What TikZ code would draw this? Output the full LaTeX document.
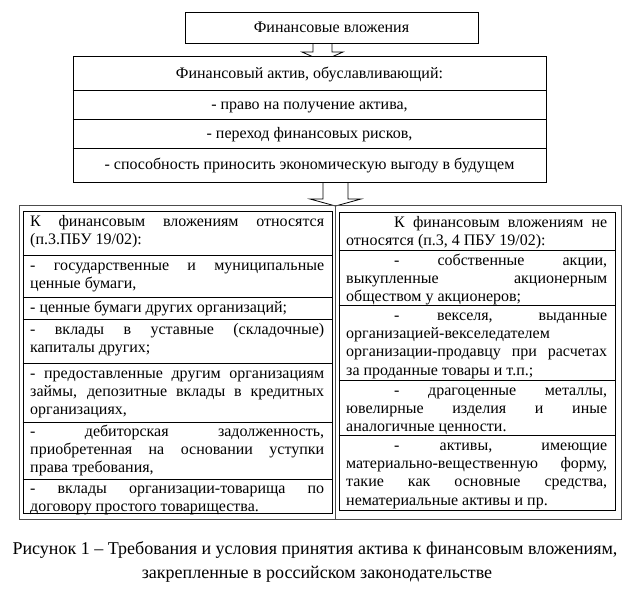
\documentclass[tikz,border=0pt]{standalone}
\usepackage{fontspec}
\setmainfont{Liberation Serif}
\usetikzlibrary{positioning,calc}
\hyphenpenalty=10000
\exhyphenpenalty=10000
\tolerance=10000
\hbadness=10000
\tikzset{
  fbox/.style={draw,line width=0.8pt,fill=white,inner sep=0pt},
  rowline/.style={line width=0.8pt},
  outerframe/.style={draw=black!70,line width=0.7pt},
  barrow/.style={draw,line width=0.8pt,fill=white,line join=miter},
  ctxt/.style={anchor=base,inner sep=0pt,font=\fontsize{16}{18.4}\selectfont},
  ltxt/.style={anchor=base west,inner sep=0pt,text width=294pt,align=justify,font=\fontsize{16}{18.4}\selectfont},
  rtxt/.style={ltxt,text width=261pt},
  captxt/.style={anchor=base,inner sep=0pt,font=\fontsize{18}{24}\selectfont},
}
\newcommand{\ind}{\hspace*{48pt}}

\begin{document}
\begin{tikzpicture}[x=1pt,y=-1pt]
\useasboundingbox (0,0) rectangle (634,589);
\coordinate (ar1) at (322.5,43);
\coordinate (ar2) at (335.5,182);
\draw[barrow] (ar1) ++(-9.5,0) -- ++(0,9) -- ++(-11,0) -- ++(20.5,9) -- ++(20.5,-9) -- ++(-11,0) -- ++(0,-9);
\draw[barrow] (ar2) ++(-12.5,0) -- ++(0,17) -- ++(-13,0) -- ++(25.5,7) -- ++(25.5,-7) -- ++(-13,0) -- ++(0,-17);

\node[fbox,minimum width=293pt,minimum height=31pt,font=\fontsize{16}{18.4}\selectfont] (fv) at (331.5,27.5) {Финансовые вложения};

\node[fbox,minimum width=473pt,minimum height=126pt] (act) at (309.5,119) {};
\foreach \y in {90,119,148}
  \draw[rowline] (act.west |- 0,\y) -- (act.east |- 0,\y);
\node[ctxt] (a0) at (309.5,78) {Финансовый актив, обуславливающий:};
\node[ctxt] (a1) at (309.5,109) {- право на получение актива,};
\node[ctxt] (a2) at (309.5,138.5) {- переход финансовых рисков,};
\node[ctxt] (a3) at (309.5,169.5) {- способность приносить экономическую выгоду в будущем};

\draw[outerframe] (19,205) rectangle (621,519);
\draw[outerframe] (335.5,205) -- (335.5,519);

\node[fbox,minimum width=309pt,minimum height=302pt] (lcol) at (177.5,362) {};
\foreach \y in {255,297,319,363,422,479}
  \draw[rowline] (lcol.west |- 0,\y) -- (lcol.east |- 0,\y);
\node[ltxt] (l0) at (30,226) {К финансовым вложениям относятся\linebreak (п.3.ПБУ 19/02):};
\node[ltxt] (l1) at (30,270) {- государственные и муниципальные\linebreak ценные бумаги,};
\node[ltxt] (l2) at (30,312) {- ценные бумаги других организаций;};
\node[ltxt] (l3) at (30,334) {- вклады в уставные (складочные)\linebreak капиталы других;};
\node[ltxt] (l4) at (30,378) {- предоставленные другим организациям\linebreak займы, депозитные вклады в кредитных\linebreak организациях,};
\node[ltxt] (l5) at (30,436) {- дебиторская задолженность,\linebreak приобретенная на основании уступки\linebreak права требования,};
\node[ltxt] (l6) at (30,493) {- вклады организации-товарища по\linebreak договору простого товарищества.};

\node[fbox,minimum width=276pt,minimum height=298pt] (rcol) at (477,361) {};
\foreach \y in {250,305,380,435}
  \draw[rowline] (rcol.west |- 0,\y) -- (rcol.east |- 0,\y);
\node[rtxt] (r0) at (346,227) {\ind К финансовым вложениям не\linebreak относятся (п.3, 4 ПБУ 19/02):};
\node[rtxt] (r1) at (346,265) {\ind - собственные акции,\linebreak выкупленные акционерным\linebreak обществом у акционеров;};
\node[rtxt] (r2) at (346,320) {\ind - векселя, выданные\linebreak организацией-векселедателем\linebreak организации-продавцу при расчетах\linebreak за проданные товары и т.п.;};
\node[rtxt] (r3) at (346,395) {\ind - драгоценные металлы,\linebreak ювелирные изделия и иные\linebreak аналогичные ценности.};
\node[rtxt] (r4) at (346,450) {\ind - активы, имеющие\linebreak материально-вещественную форму,\linebreak такие как основные средства,\linebreak нематериальные активы и пр.};

\node[captxt] (cap1) at (315,554) {Рисунок 1 – Требования и условия принятия актива к финансовым вложениям,};
\node[captxt] (cap2) at (317,578) {закрепленные в российском законодательстве};
\end{tikzpicture}
\end{document}
